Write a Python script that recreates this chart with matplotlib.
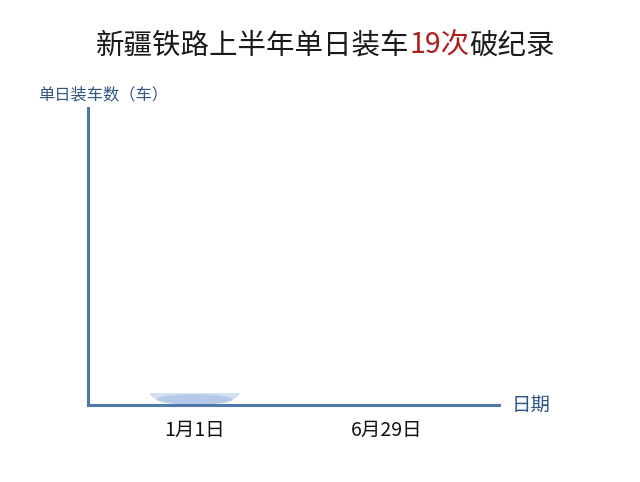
import matplotlib
matplotlib.use("Agg")
import matplotlib.pyplot as plt
from matplotlib.patches import Ellipse, Rectangle
import numpy as np

plt.rcParams['font.family'] = ['Noto Sans CJK SC', 'DejaVu Sans']

# data (animation frame: bars just starting to grow)
dates = ["1月1日", "6月29日"]
loads = [0.04, 0.0]
title_parts = ["新疆铁路上半年单日装车", "19次", "破纪录"]
title_colors = ["#1a1a1a", "#b01e1e", "#1a1a1a"]

axis_color = "#4f78ad"
label_color = "#2f5685"

fig = plt.figure(figsize=(6.4, 4.82), dpi=100)
ax = fig.add_axes([0.1375, 0.16, 0.6425, 0.616])

x = np.arange(len(dates))
bar_w = 0.47
for xi, v in zip(x, loads):
    if v > 0:
        # bottom half of the bar's top cap, all that shows at this frame
        clip = Rectangle((xi - bar_w, 0), 2 * bar_w, v, transform=ax.transData)
        e = Ellipse((xi, v), bar_w, 2 * v, facecolor="#d3e0f1",
                    edgecolor="none", zorder=2)
        ax.add_patch(e)
        e.set_clip_path(clip)
        e2 = Ellipse((xi, v * 0.45), bar_w * 0.85, v * 0.9, facecolor="#a9c2e3",
                     edgecolor="none", alpha=0.7, zorder=2)
        ax.add_patch(e2)

ax.set_xlim(-0.557, 1.589)
ax.set_ylim(0, 1)
ax.set_xticks(x)
ax.set_xticklabels(dates, fontsize=14, color="#111111")
ax.set_yticks([])
ax.tick_params(axis='x', length=0, pad=11)

for s in ["top", "right"]:
    ax.spines[s].set_visible(False)
for s in ["left", "bottom"]:
    ax.spines[s].set_color(axis_color)
    ax.spines[s].set_linewidth(2.2)

fig.text(0.06, 0.803, "单日装车数（车）", fontsize=11.7, color=label_color,
         ha="left", va="center")
fig.text(0.80, 0.16, "日期", fontsize=14, color=label_color,
         ha="left", va="center")

# title with coloured middle part, pieces chained one after another
last = fig.text(0.150, 0.905, title_parts[0], fontsize=20.5,
                color=title_colors[0], ha="left", va="center")
for part, col in zip(title_parts[1:], title_colors[1:]):
    last = ax.annotate(part, xy=(1, 0), xycoords=last, fontsize=20.5, color=col,
                       ha="left", va="bottom", annotation_clip=False)

fig.savefig("out.png", dpi=100, facecolor="white")
